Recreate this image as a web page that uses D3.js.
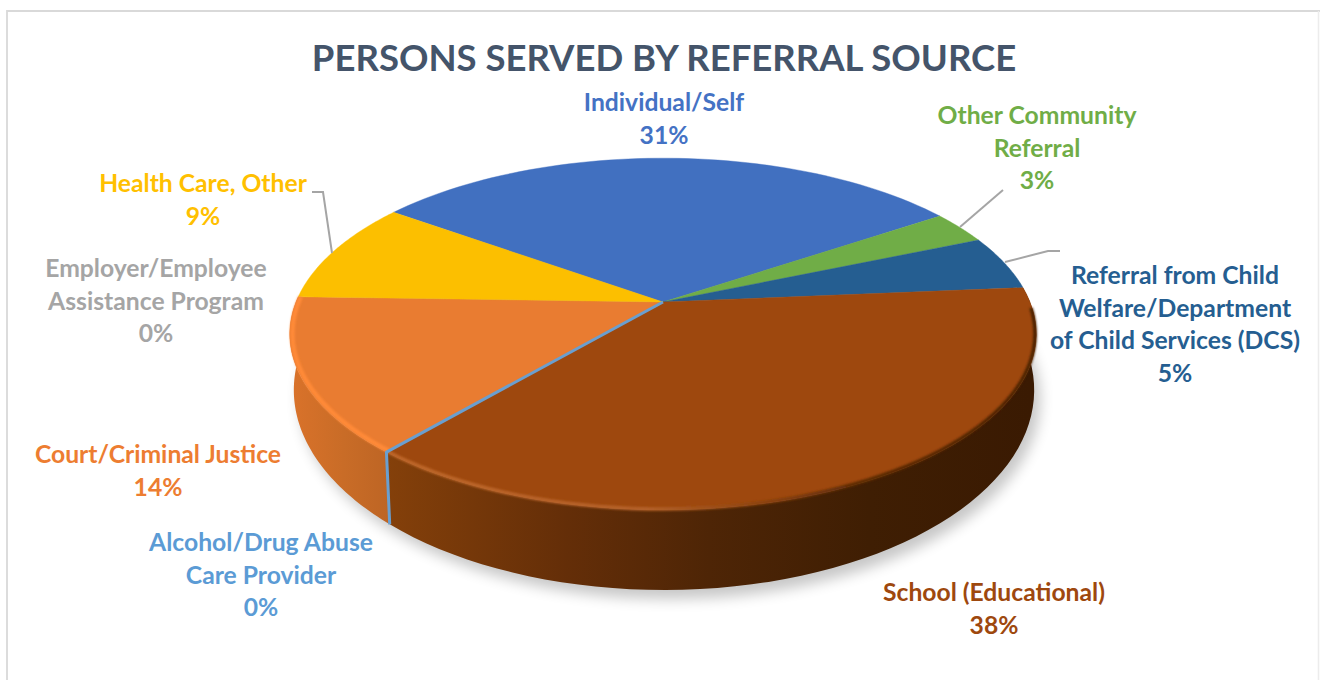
<!DOCTYPE html>
<html><head><meta charset="utf-8">
<script src="https://cdn.jsdelivr.net/npm/d3@7/dist/d3.min.js"></script>
<style>html,body{margin:0;padding:0;background:#fff}svg{display:block}text{font-family:Lato,"Open Sans",sans-serif;font-weight:700}</style>
</head><body><svg id="c" width="1320" height="680"></svg>
<script>
const title = "PERSONS SERVED BY REFERRAL SOURCE";
const categories = ["Individual/Self","Other Community Referral","Referral from Child Welfare/Department of Child Services (DCS)","School (Educational)","Alcohol/Drug Abuse Care Provider","Court/Criminal Justice","Employer/Employee Assistance Program","Health Care, Other"];
const values = [30.6,3,5,37.5,0,14.2,0,9.4];
const colors = ["#4170c0","#70ad47","#255e91","#9e480e","#6a9fcf","#e97c31","#a5a5a5","#fcbf00"];
const labelColors = ["#4472c4","#70ad47","#255e91","#9e480e","#5b9bd5","#ed7d31","#a5a5a5","#ffc000"];
const labelLines = [["Individual/Self"],["Other Community","Referral"],["Referral from Child","Welfare/Department","of Child Services (DCS)"],["School (Educational)"],["Alcohol/Drug Abuse","Care Provider"],["Court/Criminal Justice"],["Employer/Employee","Assistance Program"],["Health Care, Other"]];
const labelX = [664,1037,1175,994,261,158,156,203];
const labelY = [111,124,284,601,551,463,277,192];
const leaders = [null,[[960,227],[1003,190]],[[1005,262],[1048,251],[1060,251]],null,null,null,null,[[312,192],[323,192],[332,253]]];
const startDeg = -54.3;

const svg = d3.select("#c"), defs = svg.append("defs");
const rad = d => d*Math.PI/180;
const total = d3.sum(values);
const pie = d3.pie().sort(null).startAngle(rad(startDeg)).endAngle(rad(startDeg+360));
const arcs = pie(values);

// perspective disc
const K = 0.182;
function proj(R,S,cx,cy){ return (th,r=1)=>{ const x=r*Math.sin(th), y=-r*Math.cos(th), w=1-K*y; return [cx+R*x/w, cy+S*y/w]; }; }
const topP = proj(367,170,663,302), botP = proj(364,193.4,664,353.6);
const line = d3.line();
const samples = (a,b,n=60)=> d3.range(n+1).map(i=>a+(b-a)*i/n);

// frame
svg.append("path").attr("d",line([[7,680],[7,11],[1320,11]])).attr("fill","none").attr("stroke","#d9d9d9").attr("stroke-width",1.8);
svg.append("path").attr("d",line([[1318.5,11],[1318.5,680]])).attr("fill","none").attr("stroke","#ececec").attr("stroke-width",1.5);

// filters and gradients
const blur=(id,s)=>defs.append("filter").attr("id",id).attr("x","-10%").attr("y","-20%").attr("width","120%").attr("height","140%").append("feGaussianBlur").attr("stdDeviation",s);
blur("sh",7); blur("rim",1.3);
function grad(id,x1,x2,stops){ const g=defs.append("linearGradient").attr("id",id).attr("gradientUnits","userSpaceOnUse").attr("x1",x1).attr("x2",x2).attr("y1",0).attr("y2",0);
  stops.forEach(s=>g.append("stop").attr("offset",s[0]).attr("stop-color",s[1])); }
grad("wall3",388,1030,[[0,"#84400a"],[0.28,"#642e08"],[0.5,"#4e2506"],[0.75,"#3f1e03"],[1,"#3a1a02"]]);
grad("wall5",292,395,[[0,"#d9722a"],[0.5,"#c96c27"],[1,"#bc6424"]]);
grad("rim3",388,1036,[[0,"#c0682a"],[0.4,"#b5622a"],[0.58,"#8a420e"],[0.72,"#5a2a06"],[1,"#4a2204"]]);

// shadow
const fullBot = samples(0,2*Math.PI,180).map(t=>botP(t));
svg.append("path").attr("d",line(fullBot)+"Z").attr("transform","translate(6,9)").attr("fill","#000").attr("opacity",0.22).attr("filter","url(#sh)");

// walls, from the same pie angles
const wallFor = {3:"url(#wall3)",5:"url(#wall5)"};
arcs.forEach((d,i)=>{
  if(!wallFor[i]) return;
  const a=Math.max(d.startAngle,rad(60)), b=Math.min(d.endAngle,rad(300));
  const tt=samples(a,b), bb=tt.map(t=>botP(t)).reverse();
  svg.append("path").attr("d",line(tt.map(t=>topP(t)).concat(bb))+"Z").attr("fill",wallFor[i]);
});

// top surface
arcs.forEach((d,i)=>{
  if(d.value===0) return;
  const pts=[topP(0,0)].concat(samples(d.startAngle,d.endAngle).map(t=>topP(t)));
  svg.append("path").attr("d",line(pts)+"Z").attr("fill",colors[i]).attr("stroke",colors[i]).attr("stroke-width",0.4);
});

// rim highlight
const rimOf=(i,stroke,r,w,lo,hi)=>{ const d=arcs[i];
  const a=Math.max(d.startAngle,rad(lo)), b=Math.min(d.endAngle,rad(hi));
  svg.append("path").attr("d",line(samples(a,b).map(t=>topP(t,r)))).attr("fill","none").attr("stroke",stroke).attr("stroke-width",w).attr("filter","url(#rim)"); };
rimOf(3,"url(#rim3)",0.997,3.5,92,222); rimOf(5,"#ff8a38",0.993,4.5,200,285);

// zero-width slice seen as a thin seam
arcs.forEach((d,i)=>{
  if(categories[i]!=="Alcohol/Drug Abuse Care Provider") return;
  const t=d.startAngle;
  svg.append("path").attr("d",line([topP(0,0),topP(t),botP(t)])).attr("fill","none").attr("stroke",colors[i]).attr("stroke-width",3).attr("stroke-linejoin","round");
});

// leaders
leaders.forEach(l=>{ if(l) svg.append("path").attr("d",line(l)).attr("fill","none").attr("stroke","#a5a5a5").attr("stroke-width",2); });

// title
svg.append("text").attr("x",664).attr("y",71).attr("text-anchor","middle").attr("font-size",36.5).attr("fill","#44546a").text(title);

// labels
const LH=32.5;
categories.forEach((c,i)=>{
  const lines=labelLines[i].concat([d3.format(".0%")(values[i]/total)]);
  const t=svg.append("text").attr("text-anchor","middle").attr("font-size",24.7).attr("fill",labelColors[i]);
  lines.forEach((s,j)=>t.append("tspan").attr("x",labelX[i]).attr("y",labelY[i]+j*LH).text(s));
});
</script></body></html>
